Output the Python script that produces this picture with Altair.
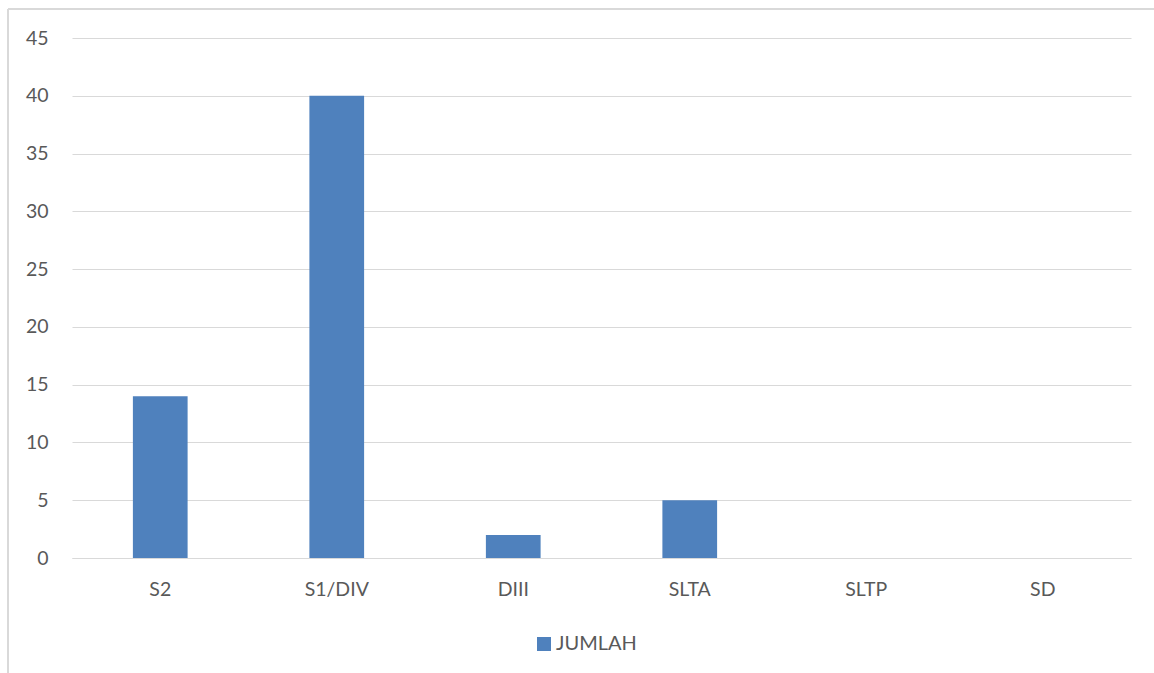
import altair as alt
import pandas as pd

categories = ["S2", "S1/DIV", "DIII", "SLTA", "SLTP", "SD"]
values = [14, 40, 2, 5, 0, 0]
series = ["JUMLAH"] * len(categories)
y_ticks = [0, 5, 10, 15, 20, 25, 30, 35, 40, 45]

df = pd.DataFrame({"kategori": categories, "nilai": values, "seri": series})

FONT = "Lato"
TXT = "#595959"
GRID = "#d9d9d9"
FS = 19.5

bars = alt.Chart(df).mark_bar(color="#4F81BD").encode(
    x=alt.X("kategori:N", sort=categories, title=None,
            scale=alt.Scale(paddingInner=0.69, paddingOuter=0.345),
            axis=alt.Axis(labelAngle=0, labelFont=FONT, labelFontSize=FS, labelColor=TXT,
                          labelPadding=22, ticks=False, domainColor=GRID, domainWidth=1)),
    y=alt.Y("nilai:Q", title=None,
            scale=alt.Scale(domain=[0, 45], nice=False),
            axis=alt.Axis(values=y_ticks, labelFont=FONT, labelFontSize=FS, labelColor=TXT,
                          labelPadding=24, ticks=False, domain=False, grid=True,
                          gridColor=GRID, gridWidth=1)),
    color=alt.Color("seri:N", title=None,
                    scale=alt.Scale(range=["#4F81BD"]),
                    legend=alt.Legend(orient="none", legendX=462, legendY=596,
                                      symbolType="square", symbolSize=196,
                                      symbolStrokeWidth=0, labelOffset=2,
                                      labelFont=FONT, labelFontSize=20, labelColor=TXT)),
)

border_top = alt.Chart(df).mark_rule(color=GRID, strokeWidth=2).encode(
    x=alt.value(-64), x2=alt.value(1090), y=alt.value(-29)
)
border_left = alt.Chart(df).mark_rule(color=GRID, strokeWidth=2).encode(
    x=alt.value(-64), y=alt.value(-29), y2=alt.value(640)
)

chart = alt.layer(bars, border_top, border_left).properties(
    width=1059, height=520,
    autosize=alt.AutoSizeParams(type="none"),
    padding={"left": 72, "top": 38, "right": 23, "bottom": 115},
    background="white",
).configure_view(stroke=None)

chart.save("out.html", embed_options={"renderer": "svg", "actions": False})
